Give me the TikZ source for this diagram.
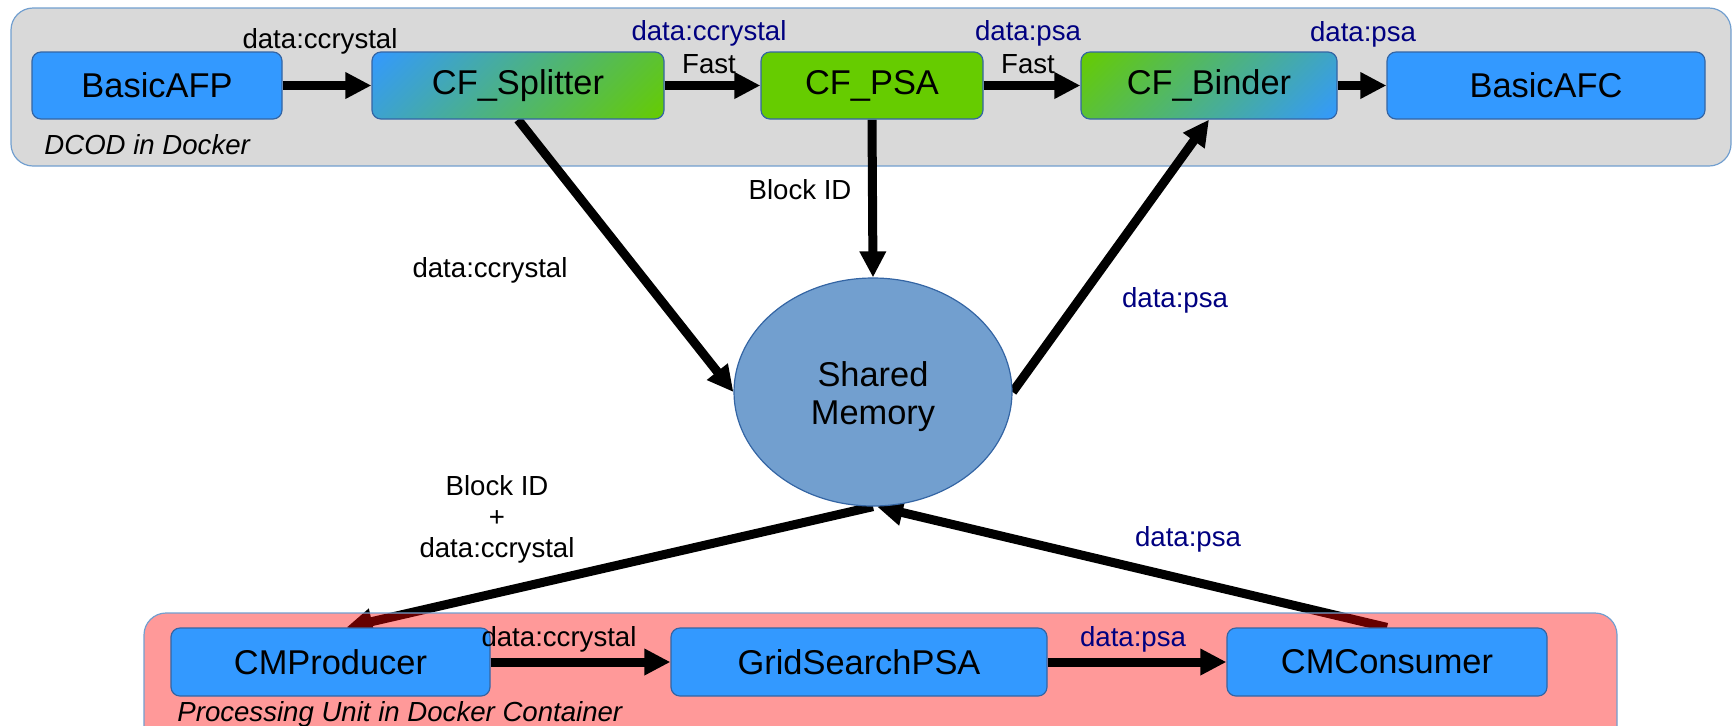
\documentclass[tikz,border=0pt]{standalone}
\usepackage{fontspec}
\setmainfont{Liberation Sans}
\usetikzlibrary{arrows.meta,shapes.geometric}
\definecolor{boxblue}{HTML}{3399FF}
\definecolor{boxgreen}{HTML}{66CC00}
\definecolor{edgeblue}{HTML}{3465A4}
\definecolor{lightedge}{HTML}{729FCF}
\definecolor{smfill}{HTML}{729FCF}
\definecolor{dcodgray}{HTML}{D9D9D9}
\definecolor{navylabel}{HTML}{000080}
\pgfdeclareverticalshading{splitgrad}{100bp}{color(0bp)=(boxgreen); color(14.6bp)=(boxgreen); color(85.4bp)=(boxblue); color(100bp)=(boxblue)}
\pgfdeclareverticalshading{bindgrad}{100bp}{color(0bp)=(boxblue); color(14.6bp)=(boxblue); color(85.4bp)=(boxgreen); color(100bp)=(boxgreen)}
\pgfdeclarelayer{bg}
\pgfdeclarelayer{conn}
\pgfdeclarelayer{mid}
\pgfsetlayers{bg,conn,mid,main}
\begin{document}
\begin{tikzpicture}[x=0.5pt,y=-0.5pt,
  box/.style={draw=edgeblue, line width=0.6pt, rounded corners=4.5pt, minimum height=33.5pt, inner sep=0pt,
              font=\fontsize{17.2pt}{20pt}\selectfont},
  bluebox/.style={box, fill=boxblue},
  lbl/.style={font=\fontsize{13.8pt}{15.5pt}\selectfont, inner sep=0pt, align=center},
  bluelbl/.style={lbl, text=navylabel},
  flow/.style={line width=4.5pt, -{Triangle[length=13pt,width=12.5pt]}},
  container/.style={draw=lightedge, line width=0.6pt, rounded corners=11pt},
]
\useasboundingbox (0,0) rectangle (1733,725);

% containers
\begin{pgfonlayer}{bg}
  \draw[container, fill=dcodgray] (11,8) rectangle (1731,166);
\end{pgfonlayer}
\begin{pgfonlayer}{mid}
  \draw[container, fill=red, fill opacity=0.4] (144,613) rectangle (1617,760);
\end{pgfonlayer}

% top row
\node[bluebox, minimum width=125pt] (afp) at (157,85.5) {BasicAFP};
\node[box, minimum width=146pt, shading=splitgrad, shading angle=45] (spl) at (518,85.5) {CF\_Splitter};
\node[box, minimum width=111pt, fill=boxgreen] (psa) at (872,85.5) {CF\_PSA};
\node[box, minimum width=128pt, shading=bindgrad, shading angle=45] (bnd) at (1209,85.5) {CF\_Binder};
\node[bluebox, minimum width=159pt] (afc) at (1546,85.5) {BasicAFC};
\node[lbl, anchor=west, font=\fontsize{13.8pt}{15.5pt}\selectfont\itshape] (dcod) at (44,145) {DCOD in Docker};

% shared memory
\node[ellipse, draw=edgeblue, line width=0.6pt, fill=smfill, minimum width=139pt, minimum height=114pt, inner sep=0pt] (sm) at (873,392) {};
\node[align=center, inner sep=0pt, font=\fontsize{17.2pt}{19pt}\selectfont] (smtext) at (873,397) {Shared\\Memory};

% bottom row
\node[bluebox, minimum width=159.5pt, minimum height=34pt] (cmp) at (330.5,662) {CMProducer};
\node[bluebox, minimum width=188pt, minimum height=34pt] (gsp) at (859,662) {GridSearchPSA};
\node[bluebox, minimum width=160pt, minimum height=34pt] (cmc) at (1387,662) {CMConsumer};
\node[lbl, anchor=west, font=\fontsize{13.8pt}{15.5pt}\selectfont\itshape] (pu) at (177,714) {Processing Unit in Docker Container};

% top row connectors
\draw[flow] (afp.east) -- (spl.west);
\draw[flow] (spl.east) -- (psa.west);
\draw[flow] (psa.east) -- (bnd.west);
\draw[flow] (bnd.east) -- (afc.west);

% bottom row connectors
\draw[flow] (cmp.east) -- (gsp.west);
\draw[flow] (gsp.east) -- (cmc.west);

% long connectors
\begin{pgfonlayer}{conn}
  \draw[flow] (spl.south) -- (sm.west);
  \draw[flow] (psa.south) -- (sm.north);
  \draw[flow] (sm.east) -- (bnd.south);
  \draw[flow] (sm.south) -- ([xshift=8pt]cmp.north);
  \draw[flow] (cmc.north) -- (sm.-88.5);
\end{pgfonlayer}

% labels
\node[lbl] (l1) at (320,41.5) {data:ccrystal};
\node[bluelbl] (l2) at (709,33) {data:ccrystal};
\node[lbl] (l3) at (709,64) {Fast};
\node[bluelbl] (l4) at (1028,33) {data:psa};
\node[lbl] (l5) at (1028,64) {Fast};
\node[bluelbl] (l6) at (1363,34) {data:psa};
\node[lbl] (l7) at (800,190) {Block ID};
\node[lbl] (l8) at (490,270) {data:ccrystal};
\node[bluelbl] (l9) at (1175,300) {data:psa};
\node[lbl] (l10) at (497,519) {Block ID\\+\\data:ccrystal};
\node[bluelbl] (l11) at (1188,539) {data:psa};
\node[lbl] (l12) at (559,639) {data:ccrystal};
\node[bluelbl] (l13) at (1133,639) {data:psa};
\end{tikzpicture}
\end{document}
